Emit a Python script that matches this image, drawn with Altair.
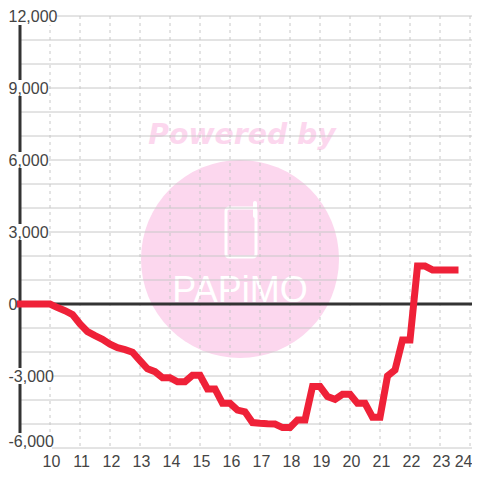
import altair as alt
import pandas as pd

hours = [9 + 0.25 * i for i in range(59)]
values = [0, 0, 0, 0, 0, -150, -280, -440, -830, -1150, -1320, -1470, -1670, -1820, -1900, -2010,
          -2360, -2700, -2820, -3070, -3070, -3240, -3240, -2970, -2970, -3540, -3540, -4140, -4140, -4420,
          -4490, -4940, -4970, -4990, -5000, -5150, -5150, -4830, -4830, -3440, -3440, -3860, -3970, -3760,
          -3760, -4140, -4140, -4720, -4720, -3000, -2750, -1500, -1500, 1580, 1580, 1420, 1420, 1420, 1420]
x_ticks = list(range(10, 25))
y_grid = list(range(-6000, 12001, 1000))
y_labels = [-6000, -3000, 0, 3000, 6000, 9000, 12000]

FONT = "Liberation Sans"
INK = "#444444"
GRID = "#c8c8c8"
DARK = "#333333"
RED = "#ef2138"
PINK = "#fcd7ee"

xs = alt.Scale(domain=[9, 9 + 452 / 30], nice=False, zero=False)
ys = alt.Scale(domain=[-6000, 12000], nice=False, zero=False)

df = pd.DataFrame({"h": hours, "v": values})
one = pd.DataFrame({"a": [0]})
xaxis = alt.Axis(values=x_ticks, title=None, grid=False, domain=False, ticks=False, tickSize=0, labelFont=FONT,
                 labelFontSize=16, labelColor=INK, labelPadding=5, labelOverlap=False, zindex=1,
                 labelFlush=False, format="d",
                 labelAlign={"condition": {"test": "datum.value === 24", "value": "right"}, "value": "center"},
                 labelOffset={"condition": {"test": "datum.value === 24", "value": 2}, "value": 1})
yaxis = alt.Axis(values=y_labels, title=None, grid=False, domain=False, ticks=False, tickSize=0, labelFont=FONT,
                 labelFontSize=16, labelColor=INK, labelPadding=12, labelAlign="left", zindex=1,
                 labelExpr="(datum.value < 0 ? '-' : '') + format(abs(datum.value), ',.0f')",
                 labelOverlap=False, labelFlush=False,
                 labelOffset={"condition": {"test": "datum.value === -6000", "value": -7}, "value": 0})

X = alt.X("h:Q", scale=xs, axis=xaxis)
Y = alt.Y("v:Q", scale=ys, axis=yaxis)

circle = alt.Chart(one).mark_circle(color=PINK, opacity=1, size=39204).encode(x=alt.value(220), y=alt.value(243))
powered = alt.Chart(one).mark_text(text="Powered by", font="DejaVu Sans", fontWeight="bold", fontStyle="italic",
                                   fontSize=28.3, color=PINK, align="center", baseline="alphabetic").encode(
    x=alt.value(222), y=alt.value(128))
phone = alt.Chart(one).mark_rect(filled=False, stroke="white", strokeWidth=3, cornerRadius=3).encode(
    x=alt.value(206), x2=alt.value(236), y=alt.value(192), y2=alt.value(241))
antenna = alt.Chart(one).mark_rule(color="white", strokeWidth=4, strokeCap="round").encode(
    x=alt.value(235), y=alt.value(187), y2=alt.value(200))
papimo = alt.Chart(one).mark_text(text="PAPiMO", font=FONT, fontSize=36, color="white", align="center",
                                  baseline="alphabetic").encode(x=alt.value(220), y=alt.value(286))

hgrid = alt.Chart(pd.DataFrame({"v": y_grid})).mark_rule(color=GRID, strokeWidth=1).encode(y=Y)
vgrid = alt.Chart(pd.DataFrame({"h": x_ticks})).mark_rule(color=GRID, strokeWidth=1, strokeDash=[3, 4]).encode(x=X)
left = alt.Chart(pd.DataFrame({"h": [9]})).mark_rule(color=DARK, strokeWidth=3).encode(x=X)
zero = alt.Chart(pd.DataFrame({"v": [0]})).mark_rule(color=DARK, strokeWidth=3).encode(y=Y)


def backing(vals, right, offset=0):
    return alt.Chart(pd.DataFrame({"v": vals})).mark_rule(color="white", strokeWidth=16, yOffset=offset).encode(
        y=Y, x=alt.value(-12), x2=alt.value(right))


backs = [backing([12000], 37, 1), backing([3000, 6000, 9000], 29), backing([-3000], 32), backing([-6000], 32, -7)]
line = alt.Chart(df).mark_line(color=RED, strokeWidth=7, strokeCap="square", strokeJoin="miter", clip=False).encode(
    x=X, y=Y)

chart = alt.layer(circle, powered, phone, antenna, papimo, hgrid, vgrid, left, zero, *backs, line).properties(
    width=452, height=432, padding={"left": 12, "top": 8, "right": 0, "bottom": 23},
    autosize=alt.AutoSizeParams(type="none", contains="content"),
).configure_view(stroke=None)

chart.save("out.html", embed_options={"renderer": "svg", "actions": False})
